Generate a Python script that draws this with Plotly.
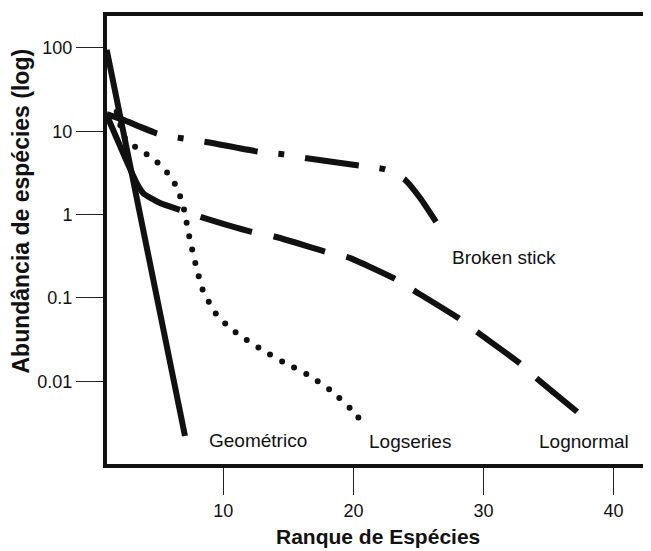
import plotly.graph_objects as go

# ---- data ----
geo_rank = [1.03, 7.05]
geo_abund = [95, 0.0022]

logser_rank = [1.80, 2.44, 3.21, 4.11, 4.95, 5.69, 6.28, 6.67, 6.98, 7.38, 7.85,
               8.42, 8.90, 9.44, 10.18, 10.98, 12.75, 14.57, 16.42, 18.21, 19.75, 20.46]
logser_abund = [17.2, 8.24, 6.53, 5.29, 4.20, 3.18, 2.33, 1.67, 1.14, 0.543, 0.260,
                0.124, 0.0886, 0.0641, 0.0486, 0.0382, 0.0251, 0.0171, 0.0121, 0.00784, 0.00473, 0.00355]

lognorm_rank = [1.03, 3.34, 3.85, 5.13, 6.67, 8.21, 12.18, 13.85, 17.82, 19.75, 23.2,
                24.6, 28.1, 29.5, 32.8, 34.1, 37.2]
lognorm_abund = [15.7, 2.38, 1.80, 1.38, 1.14, 0.94, 0.62, 0.55, 0.36, 0.30, 0.169,
                 0.124, 0.057, 0.039, 0.0164, 0.0108, 0.0043]

brok_rank = [1.03, 2.31, 4.88, 6.80, 8.59, 12.69, 14.57, 16.42, 20.52, 22.44, 23.2,
             23.98, 25.13, 26.42]
brok_abund = [16.1, 13.7, 9.46, 8.24, 7.50, 5.69, 5.29, 4.74, 3.86, 3.50, 3.07,
              2.60, 1.58, 0.787]

x_ticks = [10, 20, 30, 40]
y_ticks = [100, 10, 1, 0.1, 0.01]
y_ticktext = ["100", "10", "1", "0.1", "0.01"]

labels = ["Geométrico", "Logseries", "Lognormal", "Broken stick"]

# ---- figure ----
INK = "#111111"
FONT = "Liberation Sans, Arial, sans-serif"

lognorm_dash = ",".join(["127px", "22px"] + ["53.5px", "22px"] * 8)

fig = go.Figure()
fig.add_trace(go.Scatter(x=geo_rank, y=geo_abund, mode="lines",
                         line=dict(color=INK, width=6), name=labels[0]))
fig.add_trace(go.Scatter(x=logser_rank, y=logser_abund, mode="lines",
                         line=dict(color=INK, width=6, dash="0px,13.7px",
                                   shape="spline", smoothing=0.6), name=labels[1]))
fig.add_trace(go.Scatter(x=lognorm_rank, y=lognorm_abund, mode="lines",
                         line=dict(color=INK, width=6, dash=lognorm_dash,
                                   shape="spline", smoothing=0.5), name=labels[2]))
fig.add_trace(go.Scatter(x=brok_rank, y=brok_abund, mode="lines",
                         line=dict(color=INK, width=6, dash="54px,21px,6px,21px",
                                   shape="spline", smoothing=0.5), name=labels[3]))

ann_font = dict(family=FONT, size=19, color=INK)
fig.add_annotation(x=12.67, y=-2.714, text=labels[0], showarrow=False, font=ann_font)
fig.add_annotation(x=24.35, y=-2.726, text=labels[1], showarrow=False, font=ann_font)
fig.add_annotation(x=37.75, y=-2.726, text=labels[2], showarrow=False, font=ann_font)
fig.add_annotation(x=31.6, y=-0.513, text=labels[3], showarrow=False, font=ann_font)

# axis titles
fig.add_annotation(xref="paper", yref="paper", x=0.4995, y=-0.155,
                   text="<b>Ranque de Espécies</b>", showarrow=False,
                   font=dict(family=FONT, size=21, color=INK),
                   xanchor="center", yanchor="middle")
fig.add_annotation(xref="paper", yref="paper", x=-0.153, y=0.564,
                   text="<b>Abundância de espécies (log)</b>", showarrow=False,
                   textangle=-90, font=dict(family=FONT, size=23, color=INK),
                   xanchor="center", yanchor="middle")

# open box frame (no right side)
fig.add_shape(type="path", xref="paper", yref="paper",
              path="M 1.02,1 L 0,1 L 0,0 L 1.02,0",
              line=dict(color=INK, width=4), layer="above")

# the page body adds an 8px margin, so the figure is 8px smaller
fig.update_layout(
    width=643, height=543,
    margin=dict(l=97, r=0, t=6, b=85),
    paper_bgcolor="white", plot_bgcolor="white",
    showlegend=False,
    hovermode=False,
    font=dict(family=FONT, color=INK),
)
fig.update_xaxes(range=[0.9, 42.88], tickvals=x_ticks, ticks="outside", ticklen=28,
                 tickwidth=1, tickcolor="#222", showgrid=False, zeroline=False,
                 showline=False, tickfont=dict(family=FONT, size=18, color=INK))
fig.update_yaxes(type="log", range=[-3.018, 2.408], tickvals=y_ticks, ticktext=y_ticktext,
                 ticks="outside", ticklen=28, tickwidth=1, tickcolor="#222",
                 showgrid=False, zeroline=False, showline=False,
                 tickfont=dict(family=FONT, size=18, color=INK))

post = """
var st=document.createElement('style');
st.textContent='.scatterlayer .trace:nth-of-type(2) path.js-line{stroke-linecap:round;}';
document.head.appendChild(st);
"""

fig.write_html("out.html", config={"displayModeBar": False}, post_script=post)
